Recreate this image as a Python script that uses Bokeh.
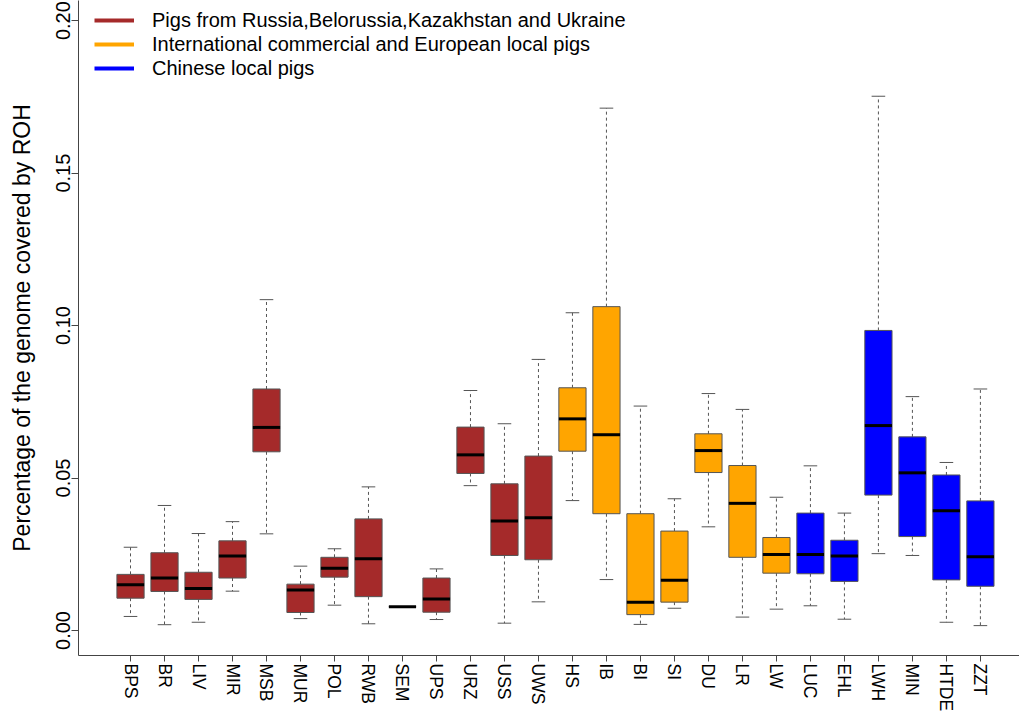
import numpy as np
from bokeh.plotting import figure
from bokeh.models import ColumnDataSource, FixedTicker, Range1d, Legend, LegendItem
from bokeh.embed import file_html
from bokeh.resources import INLINE

# ---------------- data ----------------
breeds = ["BPS", "BR", "LIV", "MIR", "MSB", "MUR", "POL", "RWB", "SEM", "UPS", "URZ", "USS", "UWS",
          "HS", "IB", "BI", "SI", "DU", "LR", "LW",
          "LUC", "EHL", "LWH", "MIN", "HTDE", "ZZT"]

group_names = ["Pigs from Russia,Belorussia,Kazakhstan and Ukraine",
               "International commercial and European local pigs",
               "Chinese local pigs"]
group_sizes = [13, 7, 6]
group_colors = ["#A52A2A", "#FFA500", "#0000FF"]

lower = [0.0046, 0.0019, 0.0027, 0.0129, 0.0317, 0.0039, 0.0083, 0.0022, 0.0078, 0.0036, 0.0475, 0.0024, 0.0094,
         0.0426, 0.0167, 0.0020, 0.0073, 0.0340, 0.0044, 0.0070,
         0.0081, 0.0037, 0.0252, 0.0246, 0.0027, 0.0016]
q1 = [0.0106, 0.0128, 0.0102, 0.0172, 0.0586, 0.0059, 0.0175, 0.0111, 0.0078, 0.0060, 0.0515, 0.0246, 0.0232,
      0.0588, 0.0383, 0.0052, 0.0093, 0.0518, 0.0240, 0.0188,
      0.0186, 0.0161, 0.0444, 0.0308, 0.0166, 0.0145]
median = [0.0150, 0.0172, 0.0138, 0.0244, 0.0666, 0.0133, 0.0204, 0.0235, 0.0078, 0.0103, 0.0576, 0.0359, 0.0370,
          0.0694, 0.0642, 0.0093, 0.0165, 0.0590, 0.0417, 0.0249,
          0.0249, 0.0244, 0.0672, 0.0517, 0.0393, 0.0242]
q3 = [0.0184, 0.0255, 0.0191, 0.0294, 0.0792, 0.0152, 0.0240, 0.0366, 0.0078, 0.0172, 0.0667, 0.0481, 0.0572,
      0.0796, 0.1062, 0.0383, 0.0326, 0.0645, 0.0541, 0.0305,
      0.0385, 0.0296, 0.0984, 0.0635, 0.0510, 0.0425]
upper = [0.0273, 0.0410, 0.0318, 0.0357, 0.1085, 0.0211, 0.0268, 0.0471, 0.0078, 0.0202, 0.0787, 0.0678, 0.0889,
         0.1042, 0.1713, 0.0736, 0.0432, 0.0777, 0.0725, 0.0437,
         0.0540, 0.0385, 0.1752, 0.0767, 0.0551, 0.0792]

y_ticks = [0.0, 0.05, 0.10, 0.15, 0.20]
y_tick_labels = ["0.00", "0.05", "0.10", "0.15", "0.20"]
y_title = "Percentage of the genome covered by ROH"

# ---------------- layout ----------------
FONT = "Liberation Sans"
W, H = 1019, 714
FRAME_LEFT = 78
FRAME_H = 655
BOX_W = 0.8
CAP_W = 0.4
y_start, y_end = -0.0082, 0.2066
x_start, x_end = -0.53, 27.15

n = len(breeds)
pos = np.arange(1, n + 1)
colors = []
for c, k in zip(group_colors, group_sizes):
    colors += [c] * k

src = ColumnDataSource(dict(
    pos=pos, color=colors,
    lower=lower, q1=q1, median=median, q3=q3, upper=upper,
    x0=pos - BOX_W / 2, x1=pos + BOX_W / 2,
    c0=pos - CAP_W / 2, c1=pos + CAP_W / 2,
))

p = figure(width=W, height=H, output_backend="svg", toolbar_location=None,
           x_range=Range1d(x_start, x_end), y_range=Range1d(y_start, y_end),
           min_border_left=FRAME_LEFT, min_border_right=0, min_border_top=0,
           min_border_bottom=H - FRAME_H)
p.outline_line_color = None
p.grid.visible = False
p.background_fill_color = "white"
p.border_fill_color = "white"

GREY = "#555555"
# whiskers
p.segment(x0="pos", y0="q3", x1="pos", y1="upper", source=src, line_color=GREY, line_width=1, line_dash="3 3")
p.segment(x0="pos", y0="q1", x1="pos", y1="lower", source=src, line_color=GREY, line_width=1, line_dash="3 3")
# caps
p.segment(x0="c0", y0="upper", x1="c1", y1="upper", source=src, line_color=GREY, line_width=1)
p.segment(x0="c0", y0="lower", x1="c1", y1="lower", source=src, line_color=GREY, line_width=1)
# boxes
p.vbar(x="pos", width=BOX_W, bottom="q1", top="q3", source=src, fill_color="color", line_color=GREY, line_width=1)
# medians
p.segment(x0="x0", y0="median", x1="x1", y1="median", source=src, line_color="black", line_width=3)

# legend (line samples, no data drawn in the frame)
items = []
for name, c in zip(group_names, group_colors):
    r = p.line(x=[np.nan], y=[np.nan], line_color=c, line_width=4)
    items.append(LegendItem(label=name, renderers=[r]))
legend = Legend(items=items, location=(16, FRAME_H - 72 - 8), glyph_width=40, glyph_height=24,
                label_height=24, spacing=0, padding=0, margin=0, label_standoff=18,
                label_text_font=FONT, label_text_font_size="20px", label_text_color="black",
                border_line_color=None, background_fill_alpha=0)
p.add_layout(legend)

# x axis
ax = p.xaxis[0]
ax.ticker = FixedTicker(ticks=list(pos))
ax.major_label_overrides = {int(i): b for i, b in zip(pos, breeds)}
ax.major_label_orientation = "vertical"
ax.major_label_text_font = FONT
ax.major_label_text_font_size = "17.5px"
ax.major_label_text_color = "black"
ax.major_label_standoff = 2
ax.major_tick_out = 6
ax.major_tick_in = 0
ax.minor_tick_out = 0
ax.minor_tick_in = 0
ax.axis_line_color = "#444444"
ax.major_tick_line_color = "#444444"

# y axis
ay = p.yaxis[0]
ay.ticker = FixedTicker(ticks=y_ticks)
ay.major_label_overrides = dict(zip(y_ticks, y_tick_labels))
ay.major_label_orientation = "vertical"
ay.major_label_text_font = FONT
ay.major_label_text_font_size = "20px"
ay.major_label_text_color = "black"
ay.major_label_standoff = 1
ay.major_tick_out = 7
ay.major_tick_in = 0
ay.minor_tick_out = 0
ay.minor_tick_in = 0
ay.axis_line_color = "#444444"
ay.major_tick_line_color = "#444444"
ay.axis_label = y_title
ay.axis_label_text_font = FONT
ay.axis_label_text_font_size = "23px"
ay.axis_label_text_font_style = "normal"
ay.axis_label_text_color = "black"
ay.axis_label_standoff = 19

open("out.html", "w").write(file_html(p, INLINE))
